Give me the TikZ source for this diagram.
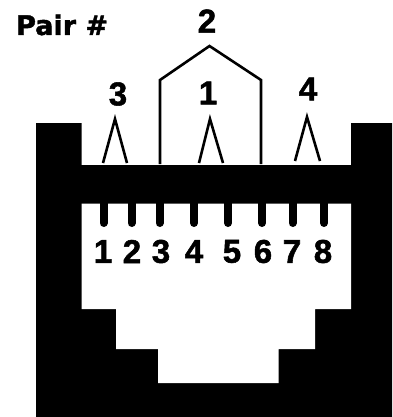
\documentclass[tikz,border=0pt]{standalone}
\usepackage{fontspec}
\setmainfont{Liberation Sans}
\newfontfamily\pairfont[FakeBold=1.6]{DejaVu Sans Bold}
\newfontfamily\digitfont[FakeBold=1.6]{Liberation Sans Bold}
\tikzset{
  pinnum/.style={font=\digitfont\fontsize{33}{33}\selectfont,inner sep=0pt,anchor=center,text=black},
  pairnum/.style={font=\digitfont\fontsize{33}{33}\selectfont,inner sep=0pt,anchor=center,text=black},
  wire/.style={draw=black,line width=2.6pt,line join=miter},
  pinbar/.style={draw=black,line width=8pt,line cap=round}
}
\begin{document}
\begin{tikzpicture}[x=1pt,y=-1pt]
\useasboundingbox (0,0) rectangle (392,417);
% jack body
\fill[black] (36,123) -- (81.5,123) -- (81.5,165) -- (351,165) -- (351,123) -- (392,123) -- (392,417) -- (36,417) -- cycle;
% opening
\fill[white] (81.5,203.5) -- (351,203.5) -- (351,309) -- (315,309) -- (315,349) -- (278.5,349) -- (278.5,383) -- (158,383) -- (158,349) -- (116,349) -- (116,309) -- (81.5,309) -- cycle;
% pins
\foreach \n/\x in {1/103.5,2/131.5,3/159.5,4/194,5/228,6/262,7/292.5,8/324}{
  \draw[pinbar] (\x,200) -- (\x,223);
}
% pin numbers
\foreach \n/\x in {1/103,2/132,3/161,4/194,5/232,6/263,7/292,8/323}{
  \node[pinnum] (pin\n) at (\x,251.5) {\n};
}
% pair labels
\node[font=\pairfont\fontsize{27}{27}\selectfont,inner sep=0pt,anchor=base west] (pairlabel) at (16,35) {Pair \#};
\node[pairnum] (p2) at (207,21) {2};
\node[pairnum] (p3) at (118,94) {3};
\node[pairnum] (p1) at (208,93) {1};
\node[pairnum] (p4) at (308,89) {4};
% wire shapes
\coordinate (a1) at (160,164); \coordinate (a2) at (160,80); \coordinate (a3) at (209.5,46); \coordinate (a4) at (261,80); \coordinate (a5) at (261,164);
\draw[wire] (a1) -- (a2) -- (a3) -- (a4) -- (a5);
\coordinate (b1) at (103,163); \coordinate (b2) at (115,119); \coordinate (b3) at (127,163);
\draw[wire] (b1) -- (b2) -- (b3);
\coordinate (c1) at (199,163); \coordinate (c2) at (210,119); \coordinate (c3) at (223,163);
\draw[wire] (c1) -- (c2) -- (c3);
\coordinate (d1) at (295,161); \coordinate (d2) at (307,117); \coordinate (d3) at (320,161);
\draw[wire] (d1) -- (d2) -- (d3);
\end{tikzpicture}
\end{document}
